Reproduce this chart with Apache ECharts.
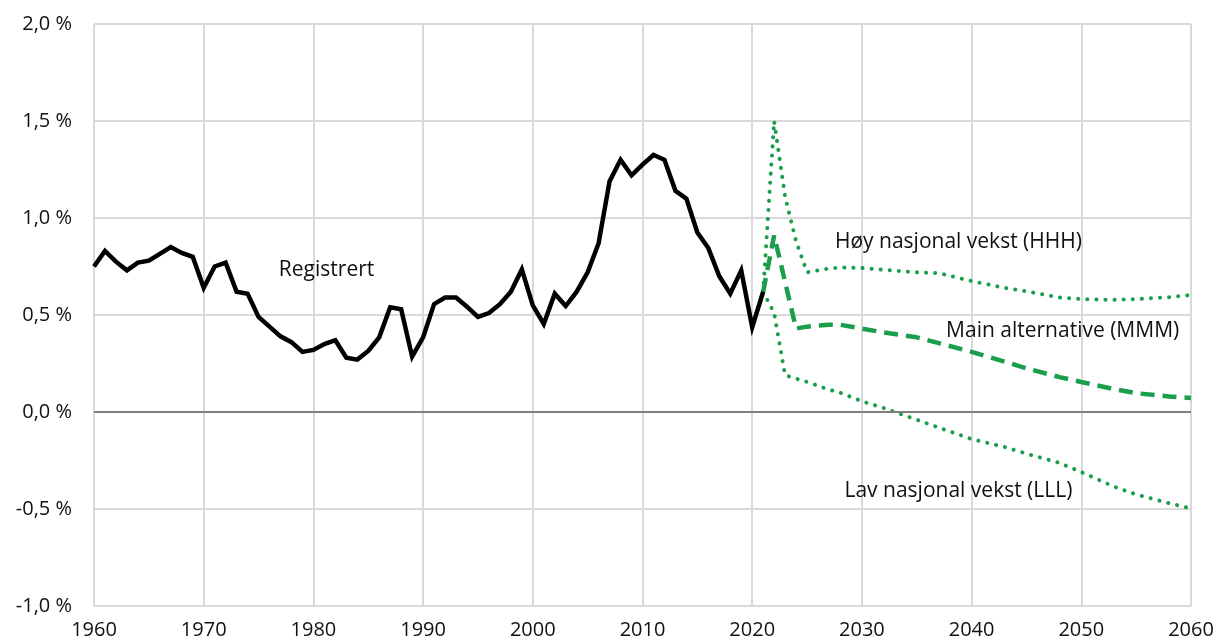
<!DOCTYPE html>
<html>
<head>
<meta charset="utf-8">
<title>Befolkningsvekst</title>
<script src="https://cdn.jsdelivr.net/npm/echarts@6/dist/echarts.min.js"></script>
<style>
  html, body { margin: 0; padding: 0; background: #fff; }
  #chart { width: 1219px; height: 642px; }
</style>
</head>
<body>
<div id="chart"></div>
<script>
// registered growth, percent per year
const histYears = []
for ( let y = 1960; y <= 2021; y++ ) histYears.push( y )
const histValues = [
  0.75, 0.83, 0.775, 0.73, 0.77, 0.78, 0.815, 0.85, 0.82, 0.80,
  0.64, 0.75, 0.77, 0.62, 0.61, 0.49, 0.44, 0.39, 0.36, 0.31,
  0.32, 0.35, 0.37, 0.28, 0.27, 0.315, 0.385, 0.54, 0.53, 0.285,
  0.385, 0.556, 0.59, 0.59, 0.543, 0.49, 0.51, 0.556, 0.62, 0.735,
  0.55, 0.454, 0.61, 0.546, 0.62, 0.72, 0.87, 1.19, 1.30, 1.22,
  1.275, 1.325, 1.30, 1.14, 1.10, 0.925, 0.845, 0.70, 0.61, 0.73,
  0.437, 0.62
]

// projections
const projYears = [ 2021, 2022, 2023, 2024, 2025, 2026, 2027, 2028, 2030, 2032, 2035, 2037, 2040, 2043, 2045, 2048, 2050, 2053, 2055, 2058, 2060 ]
const highValues = [ 0.62, 1.50, 1.11, 0.88, 0.72, 0.73, 0.74, 0.745, 0.742, 0.733, 0.72, 0.716, 0.675, 0.64, 0.622, 0.59, 0.582, 0.578, 0.582, 0.592, 0.603 ]
const mainValues = [ 0.62, 0.91, 0.67, 0.43, 0.44, 0.445, 0.45, 0.45, 0.43, 0.41, 0.385, 0.355, 0.31, 0.26, 0.225, 0.18, 0.155, 0.118, 0.097, 0.08, 0.072 ]
const lowValues = [ 0.62, 0.51, 0.19, 0.172, 0.155, 0.135, 0.115, 0.10, 0.055, 0.02, -0.04, -0.08, -0.14, -0.18, -0.215, -0.262, -0.31, -0.385, -0.425, -0.47, -0.497 ]

const labelTexts = [ 'Registrert', 'Høy nasjonal vekst (HHH)', 'Main alternative (MMM)', 'Lav nasjonal vekst (LLL)' ]
const labelYears = [ 1981.2, 2038.8, 2048.3, 2038.8 ]
const labelValues = [ 0.73, 0.875, 0.42, -0.405 ]

const green = '#1a9e4b'
const font = '"Open Sans", "Noto Sans", sans-serif'

const pairs = ( xs, ys ) => xs.map( ( x, i ) => [ x, ys[ i ] ] )

const chart = echarts.init( document.getElementById( 'chart' ) )

chart.setOption( {
  animation : false,
  grid : {
    left : 94,
    right : 28,
    top : 24,
    bottom : 36
  },
  xAxis : {
    type : 'value',
    min : 1960,
    max : 2060,
    interval : 10,
    axisLine : { show : false },
    axisTick : { show : false },
    axisLabel : {
      color : '#111',
      fontFamily : font,
      fontSize : 20,
      margin : 14,
      formatter : v => String( v )
    },
    splitLine : { show : true, lineStyle : { color : '#d9d9d9', width : 2 }}
  },
  yAxis : {
    type : 'value',
    min : -1,
    max : 2,
    interval : 0.5,
    axisLine : { show : false },
    axisTick : { show : false },
    axisLabel : {
      color : '#111',
      fontFamily : font,
      fontSize : 20,
      margin : 22,
      formatter : v => v.toFixed( 1 ).replace( '.', ',' ) + ' %'
    },
    splitLine : { show : true, lineStyle : { color : '#d9d9d9', width : 2 }}
  },
  series : [
    {
      name : 'Registrert',
      type : 'line',
      data : pairs( histYears, histValues ),
      showSymbol : false,
      lineStyle : { color : '#000', width : 4.5, join : 'miter' },
      z : 5,
      markLine : {
        silent : true,
        symbol : 'none',
        label : { show : false },
        lineStyle : { color : '#808080', width : 2, type : 'solid' },
        data : [ { yAxis : 0 } ]
      }
    },
    {
      name : 'HHH',
      type : 'line',
      data : pairs( projYears, highValues ),
      showSymbol : false,
      lineStyle : { color : green, width : 4, type : [ 0.1, 9 ], cap : 'round' },
      z : 4
    },
    {
      name : 'MMM',
      type : 'line',
      data : pairs( projYears, mainValues ),
      showSymbol : false,
      lineStyle : { color : green, width : 4.5, type : [ 14, 8 ] },
      z : 4
    },
    {
      name : 'LLL',
      type : 'line',
      data : pairs( projYears, lowValues ),
      showSymbol : false,
      lineStyle : { color : green, width : 4, type : [ 0.1, 9 ], cap : 'round' },
      z : 4
    },
    {
      name : 'labels',
      type : 'scatter',
      symbolSize : 0,
      silent : true,
      itemStyle : { opacity : 1 },
      data : labelTexts.map( ( t, i ) => ( { name : t, value : [ labelYears[ i ], labelValues[ i ] ] } ) ),
      label : {
        show : true,
        position : 'inside',
        formatter : p => p.name,
        color : '#111',
        opacity : 1,
        fontFamily : font,
        fontSize : 21
      },
      z : 6
    }
  ]
} )
</script>
</body>
</html>
